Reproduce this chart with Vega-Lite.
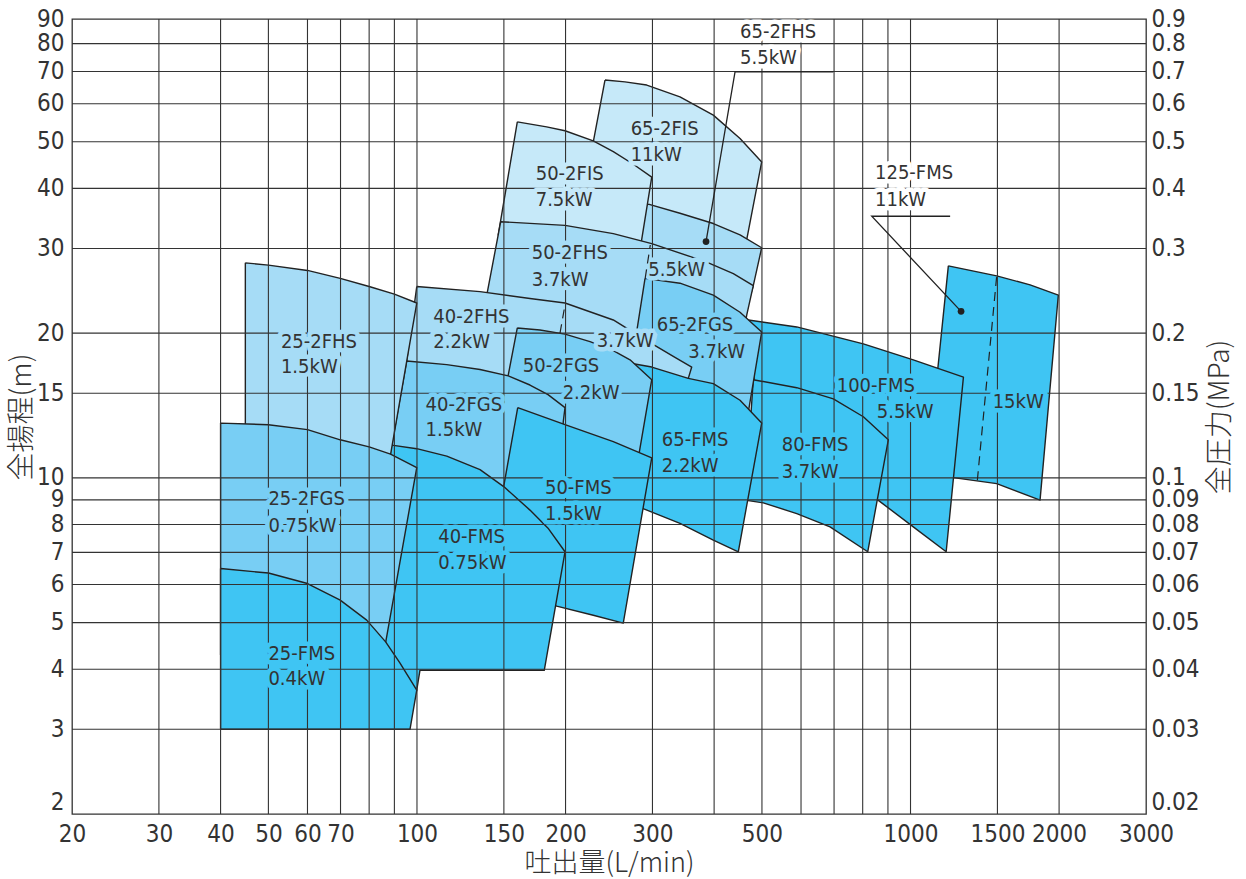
{
  "$schema": "https://vega.github.io/schema/vega-lite/v6.json",
  "width": 1074,
  "height": 795,
  "autosize": "none",
  "padding": {"left": 72, "top": 19, "right": 100, "bottom": 65},
  "background": "#ffffff",
  "config": {"view": {"stroke": "#333333", "strokeWidth": 1.3}},
  "datasets": {
    "poly": [
      {"p":"65-2FIS","i":0,"q":240.4,"h":67.2},{"p":"65-2FIS","i":1,"q":263.9,"h":66.6},{"p":"65-2FIS","i":2,"q":292.1,"h":65.6},{"p":"65-2FIS","i":3,"q":341.1,"h":62.0},{"p":"65-2FIS","i":4,"q":398.5,"h":56.8},{"p":"65-2FIS","i":5,"q":451.4,"h":50.8},{"p":"65-2FIS","i":6,"q":499.4,"h":45.4},{"p":"65-2FIS","i":7,"q":465.7,"h":31.3},{"p":"65-2FIS","i":8,"q":462.0,"h":29.8},{"p":"65-2FIS","i":9,"q":283.1,"h":34.4},{"p":"65-2FIS","i":10,"q":224.0,"h":45.8},{"p":"65-2FIS","i":11,"q":240.4,"h":67.2},
      {"p":"65-2FHS","i":0,"q":294.3,"h":37.1},{"p":"65-2FHS","i":1,"q":341.1,"h":35.5},{"p":"65-2FHS","i":2,"q":398.5,"h":33.8},{"p":"65-2FHS","i":3,"q":451.4,"h":32.0},{"p":"65-2FHS","i":4,"q":499.4,"h":30.1},{"p":"65-2FHS","i":5,"q":480.2,"h":25.1},{"p":"65-2FHS","i":6,"q":470.7,"h":23.4},{"p":"65-2FHS","i":7,"q":276.5,"h":30.5},{"p":"65-2FHS","i":8,"q":276.5,"h":35.2},{"p":"65-2FHS","i":9,"q":294.3,"h":37.1},
      {"p":"50-2FIS","i":0,"q":159.7,"h":55.0},{"p":"50-2FIS","i":1,"q":183.1,"h":53.7},{"p":"50-2FIS","i":2,"q":199.5,"h":52.7},{"p":"50-2FIS","i":3,"q":227.6,"h":50.2},{"p":"50-2FIS","i":4,"q":249.9,"h":47.7},{"p":"50-2FIS","i":5,"q":274.4,"h":44.9},{"p":"50-2FIS","i":6,"q":299.0,"h":42.2},{"p":"50-2FIS","i":7,"q":285.3,"h":31.3},{"p":"50-2FIS","i":8,"q":283.1,"h":29.5},{"p":"50-2FIS","i":9,"q":146.1,"h":32.0},{"p":"50-2FIS","i":10,"q":159.7,"h":55.0},
      {"p":"50-2FHS","i":0,"q":147.8,"h":34.1},{"p":"50-2FHS","i":1,"q":199.5,"h":33.5},{"p":"50-2FHS","i":2,"q":249.9,"h":32.2},{"p":"50-2FHS","i":3,"q":299.0,"h":30.7},{"p":"50-2FHS","i":4,"q":386.4,"h":28.1},{"p":"50-2FHS","i":5,"q":437.5,"h":26.6},{"p":"50-2FHS","i":6,"q":480.2,"h":25.1},{"p":"50-2FHS","i":7,"q":465.7,"h":21.8},{"p":"50-2FHS","i":8,"q":459.9,"h":20.3},{"p":"50-2FHS","i":9,"q":310.8,"h":23.4},{"p":"50-2FHS","i":10,"q":283.1,"h":19.3},{"p":"50-2FHS","i":11,"q":234.9,"h":19.3},{"p":"50-2FHS","i":12,"q":137.3,"h":22.9},{"p":"50-2FHS","i":13,"q":147.8,"h":34.1},
      {"p":"125-FMS","i":0,"q":1193,"h":27.6},{"p":"125-FMS","i":1,"q":1495,"h":26.3},{"p":"125-FMS","i":2,"q":1747,"h":25.2},{"p":"125-FMS","i":3,"q":1993,"h":24.0},{"p":"125-FMS","i":4,"q":1830,"h":8.99},{"p":"125-FMS","i":5,"q":1495,"h":9.73},{"p":"125-FMS","i":6,"q":1231,"h":10.0},{"p":"125-FMS","i":7,"q":1079,"h":10.1},{"p":"125-FMS","i":8,"q":1193,"h":27.6},
      {"p":"100-FMS","i":0,"q":469.2,"h":21.3},{"p":"100-FMS","i":1,"q":588.2,"h":20.6},{"p":"100-FMS","i":2,"q":802.4,"h":19.0},{"p":"100-FMS","i":3,"q":1013,"h":17.6},{"p":"100-FMS","i":4,"q":1280,"h":16.2},{"p":"100-FMS","i":5,"q":1181,"h":7.02},{"p":"100-FMS","i":6,"q":1013,"h":7.91},{"p":"100-FMS","i":7,"q":859.4,"h":8.99},{"p":"100-FMS","i":8,"q":495.5,"h":12.0},{"p":"100-FMS","i":9,"q":469.2,"h":21.3},
      {"p":"80-FMS","i":0,"q":480.2,"h":16.0},{"p":"80-FMS","i":1,"q":588.2,"h":15.4},{"p":"80-FMS","i":2,"q":697.6,"h":14.6},{"p":"80-FMS","i":3,"q":802.4,"h":13.4},{"p":"80-FMS","i":4,"q":901.6,"h":12.0},{"p":"80-FMS","i":5,"q":819.0,"h":7.02},{"p":"80-FMS","i":6,"q":686.9,"h":7.91},{"p":"80-FMS","i":7,"q":588.2,"h":8.43},{"p":"80-FMS","i":8,"q":503.2,"h":8.87},{"p":"80-FMS","i":9,"q":462.0,"h":8.99},{"p":"80-FMS","i":10,"q":480.2,"h":16.0},
      {"p":"65-2FGS","i":0,"q":289.8,"h":26.0},{"p":"65-2FGS","i":1,"q":341.1,"h":25.4},{"p":"65-2FGS","i":2,"q":398.5,"h":24.0},{"p":"65-2FGS","i":3,"q":451.4,"h":22.1},{"p":"65-2FGS","i":4,"q":499.4,"h":20.1},{"p":"65-2FGS","i":5,"q":469.2,"h":13.7},{"p":"65-2FGS","i":6,"q":464.2,"h":12.9},{"p":"65-2FGS","i":7,"q":269.1,"h":16.0},{"p":"65-2FGS","i":8,"q":289.8,"h":26.0},
      {"p":"40-2FHS","i":0,"q":99.9,"h":25.0},{"p":"40-2FHS","i":1,"q":134.2,"h":24.4},{"p":"40-2FHS","i":2,"q":169.4,"h":23.6},{"p":"40-2FHS","i":3,"q":199.5,"h":23.1},{"p":"40-2FHS","i":4,"q":249.9,"h":21.3},{"p":"40-2FHS","i":5,"q":292.1,"h":19.3},{"p":"40-2FHS","i":6,"q":330.6,"h":17.9},{"p":"40-2FHS","i":7,"q":360.3,"h":17.0},{"p":"40-2FHS","i":8,"q":354.6,"h":16.1},{"p":"40-2FHS","i":9,"q":283.1,"h":15.8},{"p":"40-2FHS","i":10,"q":234.9,"h":17.6},{"p":"40-2FHS","i":11,"q":194.9,"h":18.9},{"p":"40-2FHS","i":12,"q":152.9,"h":16.0},{"p":"40-2FHS","i":13,"q":94.5,"h":16.4},{"p":"40-2FHS","i":14,"q":99.9,"h":25.0},
      {"p":"65-FMS","i":0,"q":263.9,"h":17.4},{"p":"65-FMS","i":1,"q":299.0,"h":17.0},{"p":"65-FMS","i":2,"q":354.6,"h":16.1},{"p":"65-FMS","i":3,"q":398.5,"h":15.7},{"p":"65-FMS","i":4,"q":451.4,"h":14.5},{"p":"65-FMS","i":5,"q":499.4,"h":13.0},{"p":"65-FMS","i":6,"q":447.8,"h":7.02},{"p":"65-FMS","i":7,"q":398.5,"h":7.42},{"p":"65-FMS","i":8,"q":341.1,"h":8.04},{"p":"65-FMS","i":9,"q":289.8,"h":8.60},{"p":"65-FMS","i":10,"q":263.9,"h":8.90},{"p":"65-FMS","i":11,"q":263.9,"h":17.4},
      {"p":"50-2FGS","i":0,"q":159.7,"h":20.5},{"p":"50-2FGS","i":1,"q":177.5,"h":20.3},{"p":"50-2FGS","i":2,"q":199.5,"h":19.9},{"p":"50-2FGS","i":3,"q":224.2,"h":19.2},{"p":"50-2FGS","i":4,"q":249.9,"h":18.4},{"p":"50-2FGS","i":5,"q":270.2,"h":17.6},{"p":"50-2FGS","i":6,"q":299.0,"h":16.0},{"p":"50-2FGS","i":7,"q":282.1,"h":11.3},{"p":"50-2FGS","i":8,"q":280.4,"h":10.9},{"p":"50-2FGS","i":9,"q":194.9,"h":12.9},{"p":"50-2FGS","i":10,"q":151.7,"h":15.6},{"p":"50-2FGS","i":11,"q":159.7,"h":20.5},
      {"p":"40-2FGS","i":0,"q":95.3,"h":17.5},{"p":"40-2FGS","i":1,"q":114.9,"h":17.2},{"p":"40-2FGS","i":2,"q":134.2,"h":16.8},{"p":"40-2FGS","i":3,"q":153.1,"h":16.3},{"p":"40-2FGS","i":4,"q":169.4,"h":15.6},{"p":"40-2FGS","i":5,"q":184.3,"h":14.9},{"p":"40-2FGS","i":6,"q":199.5,"h":14.0},{"p":"40-2FGS","i":7,"q":197.9,"h":13.1},{"p":"40-2FGS","i":8,"q":196.7,"h":12.0},{"p":"40-2FGS","i":9,"q":155.8,"h":10.4},{"p":"40-2FGS","i":10,"q":151.5,"h":9.21},{"p":"40-2FGS","i":11,"q":134.2,"h":9.89},{"p":"40-2FGS","i":12,"q":114.0,"h":10.6},{"p":"40-2FGS","i":13,"q":88.3,"h":11.3},{"p":"40-2FGS","i":14,"q":88.9,"h":11.7},{"p":"40-2FGS","i":15,"q":95.3,"h":17.5},
      {"p":"50-FMS","i":0,"q":160.0,"h":14.0},{"p":"50-FMS","i":1,"q":199.5,"h":12.9},{"p":"50-FMS","i":2,"q":249.9,"h":11.9},{"p":"50-FMS","i":3,"q":299.0,"h":11.0},{"p":"50-FMS","i":4,"q":261.8,"h":4.99},{"p":"50-FMS","i":5,"q":227.6,"h":5.18},{"p":"50-FMS","i":6,"q":191.9,"h":5.41},{"p":"50-FMS","i":7,"q":177.5,"h":5.57},{"p":"50-FMS","i":8,"q":143.9,"h":7.42},{"p":"50-FMS","i":9,"q":149.6,"h":9.50},{"p":"50-FMS","i":10,"q":160.0,"h":14.0},
      {"p":"40-FMS","i":0,"q":88.9,"h":11.7},{"p":"40-FMS","i":1,"q":99.9,"h":11.5},{"p":"40-FMS","i":2,"q":114.9,"h":11.1},{"p":"40-FMS","i":3,"q":134.2,"h":10.4},{"p":"40-FMS","i":4,"q":150.1,"h":9.58},{"p":"40-FMS","i":5,"q":169.4,"h":8.57},{"p":"40-FMS","i":6,"q":184.3,"h":7.86},{"p":"40-FMS","i":7,"q":199.5,"h":7.02},{"p":"40-FMS","i":8,"q":181.1,"h":3.98},{"p":"40-FMS","i":9,"q":101.4,"h":3.98},{"p":"40-FMS","i":10,"q":99.9,"h":3.62},{"p":"40-FMS","i":11,"q":72.3,"h":3.62},{"p":"40-FMS","i":12,"q":88.9,"h":11.7},
      {"p":"25-2FHS","i":0,"q":44.9,"h":28.0},{"p":"25-2FHS","i":1,"q":50.0,"h":27.7},{"p":"25-2FHS","i":2,"q":60.0,"h":27.0},{"p":"25-2FHS","i":3,"q":69.9,"h":26.0},{"p":"25-2FHS","i":4,"q":80.0,"h":25.0},{"p":"25-2FHS","i":5,"q":90.0,"h":24.1},{"p":"25-2FHS","i":6,"q":99.9,"h":23.1},{"p":"25-2FHS","i":7,"q":86.9,"h":10.1},{"p":"25-2FHS","i":8,"q":44.9,"h":11.7},{"p":"25-2FHS","i":9,"q":44.9,"h":28.0},
      {"p":"25-2FGS","i":0,"q":40.0,"h":13.0},{"p":"25-2FGS","i":1,"q":50.0,"h":12.9},{"p":"25-2FGS","i":2,"q":60.0,"h":12.6},{"p":"25-2FGS","i":3,"q":69.9,"h":12.0},{"p":"25-2FGS","i":4,"q":80.0,"h":11.6},{"p":"25-2FGS","i":5,"q":88.4,"h":11.2},{"p":"25-2FGS","i":6,"q":99.9,"h":10.5},{"p":"25-2FGS","i":7,"q":85.5,"h":4.28},{"p":"25-2FGS","i":8,"q":40.0,"h":4.28},{"p":"25-2FGS","i":9,"q":40.0,"h":13.0},
      {"p":"25-FMS","i":0,"q":40.0,"h":6.48},{"p":"25-FMS","i":1,"q":50.0,"h":6.34},{"p":"25-FMS","i":2,"q":60.0,"h":6.03},{"p":"25-FMS","i":3,"q":69.9,"h":5.57},{"p":"25-FMS","i":4,"q":79.1,"h":5.06},{"p":"25-FMS","i":5,"q":86.4,"h":4.56},{"p":"25-FMS","i":6,"q":92.4,"h":4.12},{"p":"25-FMS","i":7,"q":99.9,"h":3.62},{"p":"25-FMS","i":8,"q":96.8,"h":3.0},{"p":"25-FMS","i":9,"q":40.0,"h":3.0},{"p":"25-FMS","i":10,"q":40.0,"h":6.48}
    ],
    "dash": [
      {"g":"a","q":199.5,"h":22.9},{"g":"a","q":194.9,"h":20.0},
      {"g":"b","q":297.0,"h":30.5},{"g":"b","q":290.0,"h":26.0},
      {"g":"c","q":1495,"h":26.3},{"g":"c","q":1366,"h":9.89}
    ],
    "leader": [
      {"g":"a","i":0,"q":385.2,"h":31.0},{"g":"a","i":1,"q":441.0,"h":69.9},{"g":"a","i":2,"q":697.6,"h":69.9},
      {"g":"b","i":0,"q":1266,"h":22.2},{"g":"b","i":1,"q":834.5,"h":35.0},{"g":"b","i":2,"q":1203,"h":35.0}
    ],
    "dots": [{"q":385.2,"h":31.0},{"q":1266,"h":22.2}],
    "vgrid": [{"q":30},{"q":40},{"q":50},{"q":60},{"q":70},{"q":80},{"q":90},{"q":100},{"q":150},{"q":200},{"q":300},{"q":400},{"q":500},{"q":600},{"q":700},{"q":800},{"q":900},{"q":1000},{"q":1500},{"q":2000}],
    "hgrid": [{"h":3},{"h":4},{"h":5},{"h":6},{"h":7},{"h":8},{"h":9},{"h":10},{"h":15},{"h":20},{"h":30},{"h":40},{"h":50},{"h":60},{"h":70},{"h":80}],
    "labels": [
      {"t":"25-2FHS","q":53.0,"h":19.2,"tier":"FHS"},{"t":"1.5kW","q":53.0,"h":17.0,"tier":"FHS"},
      {"t":"40-2FHS","q":107.9,"h":21.6,"tier":"FHS"},{"t":"2.2kW","q":107.9,"h":19.2,"tier":"FHS"},
      {"t":"3.7kW","q":231.3,"h":19.3,"tier":"FHS"},
      {"t":"50-2FHS","q":170.8,"h":29.3,"tier":"FHS"},{"t":"3.7kW","q":170.8,"h":25.8,"tier":"FHS"},
      {"t":"5.5kW","q":294.3,"h":27.0,"tier":"FHS"},
      {"t":"50-2FIS","q":174.0,"h":42.8,"tier":"FIS"},{"t":"7.5kW","q":174.0,"h":37.8,"tier":"FIS"},
      {"t":"65-2FIS","q":271.0,"h":53.1,"tier":"FIS"},{"t":"11kW","q":271.0,"h":46.9,"tier":"FIS"},
      {"t":"25-2FGS","q":50.0,"h":9.02,"tier":"FGS"},{"t":"0.75kW","q":50.0,"h":7.93,"tier":"FGS"},
      {"t":"40-2FGS","q":104.1,"h":14.2,"tier":"FGS"},{"t":"1.5kW","q":104.1,"h":12.6,"tier":"FGS"},
      {"t":"50-2FGS","q":163.8,"h":17.1,"tier":"FGS"},{"t":"2.2kW","q":197.3,"h":15.0,"tier":"FGS"},
      {"t":"65-2FGS","q":306.0,"h":20.8,"tier":"FGS"},{"t":"3.7kW","q":354.6,"h":18.3,"tier":"FGS"},
      {"t":"25-FMS","q":50.0,"h":4.31,"tier":"FMS"},{"t":"0.4kW","q":50.0,"h":3.81,"tier":"FMS"},
      {"t":"40-FMS","q":110.4,"h":7.52,"tier":"FMS"},{"t":"0.75kW","q":110.4,"h":6.64,"tier":"FMS"},
      {"t":"50-FMS","q":181.7,"h":9.53,"tier":"FMS"},{"t":"1.5kW","q":181.7,"h":8.43,"tier":"FMS"},
      {"t":"65-FMS","q":313.3,"h":12.0,"tier":"FMS"},{"t":"2.2kW","q":313.3,"h":10.6,"tier":"FMS"},
      {"t":"80-FMS","q":548.3,"h":11.7,"tier":"FMS"},{"t":"3.7kW","q":548.3,"h":10.3,"tier":"FMS"},
      {"t":"100-FMS","q":708.7,"h":15.5,"tier":"FMS"},{"t":"5.5kW","q":854.2,"h":13.7,"tier":"FMS"},
      {"t":"15kW","q":1467,"h":14.4,"tier":"FMS"},
      {"t":"65-2FHS","q":451.4,"h":84.7,"tier":"W"},{"t":"5.5kW","q":451.4,"h":74.6,"tier":"W"},
      {"t":"125-FMS","q":847.4,"h":43.0,"tier":"W"},{"t":"11kW","q":847.4,"h":37.8,"tier":"W"}
    ]
  },
  "resolve": {"axis": {"x": "independent", "y": "independent"}},
  "layer": [
    {"data":{"name":"poly"},"transform":[{"filter":"datum.p==='65-2FIS'"}],
     "mark":{"type":"line","fill":"#c6e9f9","stroke":"#222222","strokeWidth":1.4,"strokeJoin":"round"},
     "encoding":{
       "x":{"field":"q","type":"quantitative","scale":{"type":"log","domain":[20,3000],"nice":false,"zero":false},
            "title":"吐出量(L/min)",
            "axis":{"orient":"bottom","values":[20,30,40,50,60,70,100,150,200,300,500,1000,1500,2000,3000],"format":"d","grid":false,"ticks":false,"domain":false,"labelOverlap":false,"labelBound":false,"labelFlush":false,
                    "labelFont":"DejaVu Sans Condensed, DejaVu Sans, sans-serif","labelFontSize":24,"labelFontWeight":300,"labelColor":"#333333","labelPadding":8,
                    "titleFont":"Noto Sans CJK JP","titleFontSize":27,"titleFontWeight":300,"titleColor":"#333333","titlePadding":4}},
       "y":{"field":"h","type":"quantitative","scale":{"type":"log","domain":[2,90],"nice":false,"zero":false},
            "title":"全揚程(m)",
            "axis":{"orient":"left","values":[2,3,4,5,6,7,8,9,10,15,20,30,40,50,60,70,80,90],"format":"d","grid":false,"ticks":false,"domain":false,"labelOverlap":false,"labelBound":false,"labelFlush":false,
                    "labelBaseline":{"condition":{"test":"datum.value <= 2","value":"bottom"},"value":"middle"},
                    "labelFont":"DejaVu Sans Condensed, DejaVu Sans, sans-serif","labelFontSize":24,"labelFontWeight":300,"labelColor":"#333333","labelPadding":8,
                    "titleFont":"Noto Sans CJK JP","titleFontSize":28,"titleFontWeight":300,"titleColor":"#333333","titlePadding":0}},
       "order":{"field":"i","type":"quantitative"}}},
    {"data":{"name":"poly"},"transform":[{"filter":"datum.p==='65-2FHS'"}],"mark":{"type":"line","fill":"#a6dcf6","stroke":"#222222","strokeWidth":1.4,"strokeJoin":"round"},
     "encoding":{"x":{"field":"q","type":"quantitative","scale":{"type":"log","domain":[20,3000],"nice":false,"zero":false},"axis":null},"y":{"field":"h","type":"quantitative","scale":{"type":"log","domain":[2,90],"nice":false,"zero":false},"axis":null},"order":{"field":"i","type":"quantitative"}}},
    {"data":{"name":"poly"},"transform":[{"filter":"datum.p==='50-2FIS'"}],"mark":{"type":"line","fill":"#c6e9f9","stroke":"#222222","strokeWidth":1.4,"strokeJoin":"round"},
     "encoding":{"x":{"field":"q","type":"quantitative","scale":{"type":"log","domain":[20,3000],"nice":false,"zero":false},"axis":null},"y":{"field":"h","type":"quantitative","scale":{"type":"log","domain":[2,90],"nice":false,"zero":false},"axis":null},"order":{"field":"i","type":"quantitative"}}},
    {"data":{"name":"poly"},"transform":[{"filter":"datum.p==='50-2FHS'"}],"mark":{"type":"line","fill":"#a6dcf6","stroke":"#222222","strokeWidth":1.4,"strokeJoin":"round"},
     "encoding":{"x":{"field":"q","type":"quantitative","scale":{"type":"log","domain":[20,3000],"nice":false,"zero":false},"axis":null},"y":{"field":"h","type":"quantitative","scale":{"type":"log","domain":[2,90],"nice":false,"zero":false},"axis":null},"order":{"field":"i","type":"quantitative"}}},
    {"data":{"name":"poly"},"transform":[{"filter":"datum.p==='125-FMS'"}],"mark":{"type":"line","fill":"#3fc5f3","stroke":"#222222","strokeWidth":1.4,"strokeJoin":"round"},
     "encoding":{"x":{"field":"q","type":"quantitative","scale":{"type":"log","domain":[20,3000],"nice":false,"zero":false},"axis":null},"y":{"field":"h","type":"quantitative","scale":{"type":"log","domain":[2,90],"nice":false,"zero":false},"axis":null},"order":{"field":"i","type":"quantitative"}}},
    {"data":{"name":"poly"},"transform":[{"filter":"datum.p==='100-FMS'"}],"mark":{"type":"line","fill":"#3fc5f3","stroke":"#222222","strokeWidth":1.4,"strokeJoin":"round"},
     "encoding":{"x":{"field":"q","type":"quantitative","scale":{"type":"log","domain":[20,3000],"nice":false,"zero":false},"axis":null},"y":{"field":"h","type":"quantitative","scale":{"type":"log","domain":[2,90],"nice":false,"zero":false},"axis":null},"order":{"field":"i","type":"quantitative"}}},
    {"data":{"name":"poly"},"transform":[{"filter":"datum.p==='80-FMS'"}],"mark":{"type":"line","fill":"#3fc5f3","stroke":"#222222","strokeWidth":1.4,"strokeJoin":"round"},
     "encoding":{"x":{"field":"q","type":"quantitative","scale":{"type":"log","domain":[20,3000],"nice":false,"zero":false},"axis":null},"y":{"field":"h","type":"quantitative","scale":{"type":"log","domain":[2,90],"nice":false,"zero":false},"axis":null},"order":{"field":"i","type":"quantitative"}}},
    {"data":{"name":"poly"},"transform":[{"filter":"datum.p==='65-2FGS'"}],"mark":{"type":"line","fill":"#78cef4","stroke":"#222222","strokeWidth":1.4,"strokeJoin":"round"},
     "encoding":{"x":{"field":"q","type":"quantitative","scale":{"type":"log","domain":[20,3000],"nice":false,"zero":false},"axis":null},"y":{"field":"h","type":"quantitative","scale":{"type":"log","domain":[2,90],"nice":false,"zero":false},"axis":null},"order":{"field":"i","type":"quantitative"}}},
    {"data":{"name":"poly"},"transform":[{"filter":"datum.p==='40-2FHS'"}],"mark":{"type":"line","fill":"#a6dcf6","stroke":"#222222","strokeWidth":1.4,"strokeJoin":"round"},
     "encoding":{"x":{"field":"q","type":"quantitative","scale":{"type":"log","domain":[20,3000],"nice":false,"zero":false},"axis":null},"y":{"field":"h","type":"quantitative","scale":{"type":"log","domain":[2,90],"nice":false,"zero":false},"axis":null},"order":{"field":"i","type":"quantitative"}}},
    {"data":{"name":"poly"},"transform":[{"filter":"datum.p==='65-FMS'"}],"mark":{"type":"line","fill":"#3fc5f3","stroke":"#222222","strokeWidth":1.4,"strokeJoin":"round"},
     "encoding":{"x":{"field":"q","type":"quantitative","scale":{"type":"log","domain":[20,3000],"nice":false,"zero":false},"axis":null},"y":{"field":"h","type":"quantitative","scale":{"type":"log","domain":[2,90],"nice":false,"zero":false},"axis":null},"order":{"field":"i","type":"quantitative"}}},
    {"data":{"name":"poly"},"transform":[{"filter":"datum.p==='50-2FGS'"}],"mark":{"type":"line","fill":"#78cef4","stroke":"#222222","strokeWidth":1.4,"strokeJoin":"round"},
     "encoding":{"x":{"field":"q","type":"quantitative","scale":{"type":"log","domain":[20,3000],"nice":false,"zero":false},"axis":null},"y":{"field":"h","type":"quantitative","scale":{"type":"log","domain":[2,90],"nice":false,"zero":false},"axis":null},"order":{"field":"i","type":"quantitative"}}},
    {"data":{"name":"poly"},"transform":[{"filter":"datum.p==='40-2FGS'"}],"mark":{"type":"line","fill":"#78cef4","stroke":"#222222","strokeWidth":1.4,"strokeJoin":"round"},
     "encoding":{"x":{"field":"q","type":"quantitative","scale":{"type":"log","domain":[20,3000],"nice":false,"zero":false},"axis":null},"y":{"field":"h","type":"quantitative","scale":{"type":"log","domain":[2,90],"nice":false,"zero":false},"axis":null},"order":{"field":"i","type":"quantitative"}}},
    {"data":{"name":"poly"},"transform":[{"filter":"datum.p==='50-FMS'"}],"mark":{"type":"line","fill":"#3fc5f3","stroke":"#222222","strokeWidth":1.4,"strokeJoin":"round"},
     "encoding":{"x":{"field":"q","type":"quantitative","scale":{"type":"log","domain":[20,3000],"nice":false,"zero":false},"axis":null},"y":{"field":"h","type":"quantitative","scale":{"type":"log","domain":[2,90],"nice":false,"zero":false},"axis":null},"order":{"field":"i","type":"quantitative"}}},
    {"data":{"name":"poly"},"transform":[{"filter":"datum.p==='40-FMS'"}],"mark":{"type":"line","fill":"#3fc5f3","stroke":"#222222","strokeWidth":1.4,"strokeJoin":"round"},
     "encoding":{"x":{"field":"q","type":"quantitative","scale":{"type":"log","domain":[20,3000],"nice":false,"zero":false},"axis":null},"y":{"field":"h","type":"quantitative","scale":{"type":"log","domain":[2,90],"nice":false,"zero":false},"axis":null},"order":{"field":"i","type":"quantitative"}}},
    {"data":{"name":"poly"},"transform":[{"filter":"datum.p==='25-2FHS'"}],"mark":{"type":"line","fill":"#a6dcf6","stroke":"#222222","strokeWidth":1.4,"strokeJoin":"round"},
     "encoding":{"x":{"field":"q","type":"quantitative","scale":{"type":"log","domain":[20,3000],"nice":false,"zero":false},"axis":null},"y":{"field":"h","type":"quantitative","scale":{"type":"log","domain":[2,90],"nice":false,"zero":false},"axis":null},"order":{"field":"i","type":"quantitative"}}},
    {"data":{"name":"poly"},"transform":[{"filter":"datum.p==='25-2FGS'"}],"mark":{"type":"line","fill":"#78cef4","stroke":"#222222","strokeWidth":1.4,"strokeJoin":"round"},
     "encoding":{"x":{"field":"q","type":"quantitative","scale":{"type":"log","domain":[20,3000],"nice":false,"zero":false},"axis":null},"y":{"field":"h","type":"quantitative","scale":{"type":"log","domain":[2,90],"nice":false,"zero":false},"axis":null},"order":{"field":"i","type":"quantitative"}}},
    {"data":{"name":"poly"},"transform":[{"filter":"datum.p==='25-FMS'"}],"mark":{"type":"line","fill":"#3fc5f3","stroke":"#222222","strokeWidth":1.4,"strokeJoin":"round"},
     "encoding":{"x":{"field":"q","type":"quantitative","scale":{"type":"log","domain":[20,3000],"nice":false,"zero":false},"axis":null},"y":{"field":"h","type":"quantitative","scale":{"type":"log","domain":[2,90],"nice":false,"zero":false},"axis":null},"order":{"field":"i","type":"quantitative"}}},
    {"data":{"name":"vgrid"},"mark":{"type":"rule","stroke":"#333333","strokeWidth":1.1},
     "encoding":{"x":{"field":"q","type":"quantitative","scale":{"type":"log","domain":[20,3000],"nice":false,"zero":false},"axis":null}}},
    {"data":{"name":"hgrid"},"mark":{"type":"rule","stroke":"#333333","strokeWidth":1.1},
     "encoding":{"y":{"field":"h","type":"quantitative","scale":{"type":"log","domain":[2,90],"nice":false,"zero":false},
        "title":"全圧力(MPa)",
        "axis":{"orient":"right","values":[2,3,4,5,6,7,8,9,10,15,20,30,40,50,60,70,80,90],"labelExpr":"'' + (datum.value/100)","grid":false,"ticks":false,"domain":false,"labelOverlap":false,"labelBound":false,"labelFlush":false,
                "labelBaseline":{"condition":{"test":"datum.value <= 2","value":"bottom"},"value":"middle"},
                "labelFont":"DejaVu Sans Condensed, DejaVu Sans, sans-serif","labelFontSize":24,"labelFontWeight":300,"labelColor":"#333333","labelPadding":5,
                "titleFont":"Noto Sans CJK JP","titleFontSize":28,"titleFontWeight":300,"titleColor":"#333333","titleAngle":270,"titlePadding":35}}}},
    {"data":{"name":"labels"},"mark":{"type":"text","align":"left","baseline":"middle","font":"DejaVu Sans Condensed, DejaVu Sans, sans-serif","fontSize":20,"fontWeight":300,"strokeWidth":9,"strokeJoin":"round"},
     "encoding":{"x":{"field":"q","type":"quantitative","scale":{"type":"log","domain":[20,3000],"nice":false,"zero":false},"axis":null},"y":{"field":"h","type":"quantitative","scale":{"type":"log","domain":[2,90],"nice":false,"zero":false},"axis":null},
       "text":{"field":"t","type":"nominal"},
       "stroke":{"field":"tier","type":"nominal","scale":{"domain":["FIS","FHS","FGS","FMS","W"],"range":["#c6e9f9","#a6dcf6","#78cef4","#3fc5f3","#ffffff"]},"legend":null},
       "fill":{"field":"tier","type":"nominal","scale":{"domain":["FIS","FHS","FGS","FMS","W"],"range":["#c6e9f9","#a6dcf6","#78cef4","#3fc5f3","#ffffff"]},"legend":null}}},
    {"data":{"name":"dash"},"mark":{"type":"line","stroke":"#222222","strokeWidth":1.2,"strokeDash":[9,6]},
     "encoding":{"x":{"field":"q","type":"quantitative","scale":{"type":"log","domain":[20,3000],"nice":false,"zero":false},"axis":null},"y":{"field":"h","type":"quantitative","scale":{"type":"log","domain":[2,90],"nice":false,"zero":false},"axis":null},"detail":{"field":"g","type":"nominal"}}},
    {"data":{"name":"leader"},"mark":{"type":"line","stroke":"#222222","strokeWidth":1.3},
     "encoding":{"x":{"field":"q","type":"quantitative","scale":{"type":"log","domain":[20,3000],"nice":false,"zero":false},"axis":null},"y":{"field":"h","type":"quantitative","scale":{"type":"log","domain":[2,90],"nice":false,"zero":false},"axis":null},"detail":{"field":"g","type":"nominal"},"order":{"field":"i","type":"quantitative"}}},
    {"data":{"name":"dots"},"mark":{"type":"point","filled":true,"size":45,"color":"#222222","opacity":1},
     "encoding":{"x":{"field":"q","type":"quantitative","scale":{"type":"log","domain":[20,3000],"nice":false,"zero":false},"axis":null},"y":{"field":"h","type":"quantitative","scale":{"type":"log","domain":[2,90],"nice":false,"zero":false},"axis":null}}},
    {"data":{"name":"labels"},"mark":{"type":"text","align":"left","baseline":"middle","font":"DejaVu Sans Condensed, DejaVu Sans, sans-serif","fontSize":20,"fontWeight":300,"color":"#333333"},
     "encoding":{"x":{"field":"q","type":"quantitative","scale":{"type":"log","domain":[20,3000],"nice":false,"zero":false},"axis":null},"y":{"field":"h","type":"quantitative","scale":{"type":"log","domain":[2,90],"nice":false,"zero":false},"axis":null},
       "text":{"field":"t","type":"nominal"}}}
  ]
}
